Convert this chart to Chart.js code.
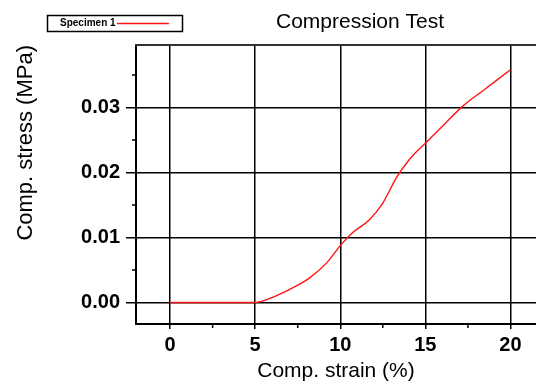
<!DOCTYPE html>
<html>
<head>
<meta charset="utf-8">
<script src="https://cdn.jsdelivr.net/npm/chart.js@4"></script>
<style>
  body { margin: 0; background: #fff; }
</style>
</head>
<body>
<canvas id="chart" width="536" height="384"></canvas>
<script>
// strain (%) and stress (MPa)
const strain = [0, 5, 6.2, 7.2, 8.2, 9.2, 10.05, 10.7, 11.7, 12.5, 13.3, 14.06, 15, 16, 17.2, 18.4, 20];
const stress = [0, 0, 0.001, 0.00225, 0.0038, 0.0061, 0.0089, 0.0107, 0.0127, 0.0153, 0.0192, 0.0220, 0.0245, 0.0271, 0.0302, 0.0326, 0.0358];

const xTicks = [0, 5, 10, 15, 20];
const xMinor = [2.5, 7.5, 12.5, 17.5];
const yTicks = [0, 0.01, 0.02, 0.03];
const yMinor = [0.005, 0.015, 0.025, 0.035];

const seriesLabel = "Specimen 1";
const chartTitle = "Compression Test";
const FONT = "Arial, 'Liberation Sans', sans-serif";

// title, legend box, top border and minor ticks
const decorations = {
    id: "decorations",
    afterDraw(chart) {
        const ctx = chart.ctx;
        const area = chart.chartArea;
        const xs = chart.scales.x, ys = chart.scales.y;
        ctx.save();

        // top border of the frame
        ctx.strokeStyle = "#333";
        ctx.lineWidth = 2;
        ctx.beginPath();
        ctx.moveTo(area.left - 1, area.top);
        ctx.lineTo(area.right, area.top);
        ctx.stroke();

        // minor ticks
        ctx.strokeStyle = "#000";
        ctx.lineWidth = 1.5;
        ctx.beginPath();
        xMinor.forEach(v => {
            const px = xs.getPixelForValue(v);
            ctx.moveTo(px, area.bottom);
            ctx.lineTo(px, area.bottom + 4);
        });
        yMinor.forEach(v => {
            const py = ys.getPixelForValue(v);
            ctx.moveTo(area.left, py);
            ctx.lineTo(area.left - 4, py);
        });
        ctx.stroke();

        // title
        ctx.fillStyle = "#000";
        ctx.font = "21px " + FONT;
        ctx.textAlign = "center";
        ctx.textBaseline = "alphabetic";
        ctx.fillText(chartTitle, 360, 28);

        // legend box
        ctx.lineWidth = 1.5;
        ctx.strokeStyle = "#000";
        ctx.strokeRect(47.5, 15.5, 135, 16);
        ctx.font = "bold 10px " + FONT;
        ctx.textAlign = "left";
        ctx.textBaseline = "middle";
        ctx.fillText(seriesLabel, 60, 23.5);
        ctx.strokeStyle = chart.data.datasets[0].borderColor;
        ctx.beginPath();
        ctx.moveTo(117, 23.5);
        ctx.lineTo(169, 23.5);
        ctx.stroke();

        ctx.restore();
    }
};

const ctx = document.getElementById("chart").getContext("2d");
new Chart(ctx, {
    type: "line",
    data: {
        datasets: [{
            label: seriesLabel,
            data: strain.map((x, i) => ({ x: x, y: stress[i] })),
            borderColor: "rgb(255, 20, 20)",
            borderWidth: 1.4,
            pointRadius: 0,
            cubicInterpolationMode: "monotone",
            fill: false
        }]
    },
    options: {
        responsive: false,
        animation: false,
        layout: { padding: { top: 45, right: 0, left: 0, bottom: 0 } },
        plugins: {
            legend: { display: false },
            title: { display: false },
            tooltip: { enabled: false }
        },
        scales: {
            x: {
                type: "linear",
                min: -2,
                max: 21.5,
                afterBuildTicks: scale => { scale.ticks = xTicks.map(v => ({ value: v })); },
                afterFit: scale => { scale.height = 60; },
                grid: { color: "#000", lineWidth: 1.5, tickLength: 5 },
                border: { display: true, color: "#000", width: 2 },
                ticks: {
                    color: "#000",
                    padding: 4,
                    maxRotation: 0,
                    font: { family: FONT, size: 20, weight: "bold" }
                },
                title: {
                    display: true,
                    text: "Comp. strain (%)",
                    color: "#000",
                    padding: { top: 0, bottom: 0 },
                    font: { family: FONT, size: 21 }
                }
            },
            y: {
                type: "linear",
                min: -0.0033,
                max: 0.0396,
                afterBuildTicks: scale => { scale.ticks = yTicks.map(v => ({ value: v })); },
                afterFit: scale => { scale.width = 136; },
                grid: { color: "#000", lineWidth: 1.5, tickLength: 10 },
                border: { display: true, color: "#000", width: 2 },
                ticks: {
                    color: "#000",
                    padding: 6,
                    font: { family: FONT, size: 20, weight: "bold" },
                    callback: v => v.toFixed(2)
                },
                title: {
                    display: true,
                    text: "Comp. stress (MPa)",
                    color: "#000",
                    align: "end",
                    padding: { top: 13, bottom: 0 },
                    font: { family: FONT, size: 22 }
                }
            }
        }
    },
    plugins: [decorations]
});
</script>
</body>
</html>
